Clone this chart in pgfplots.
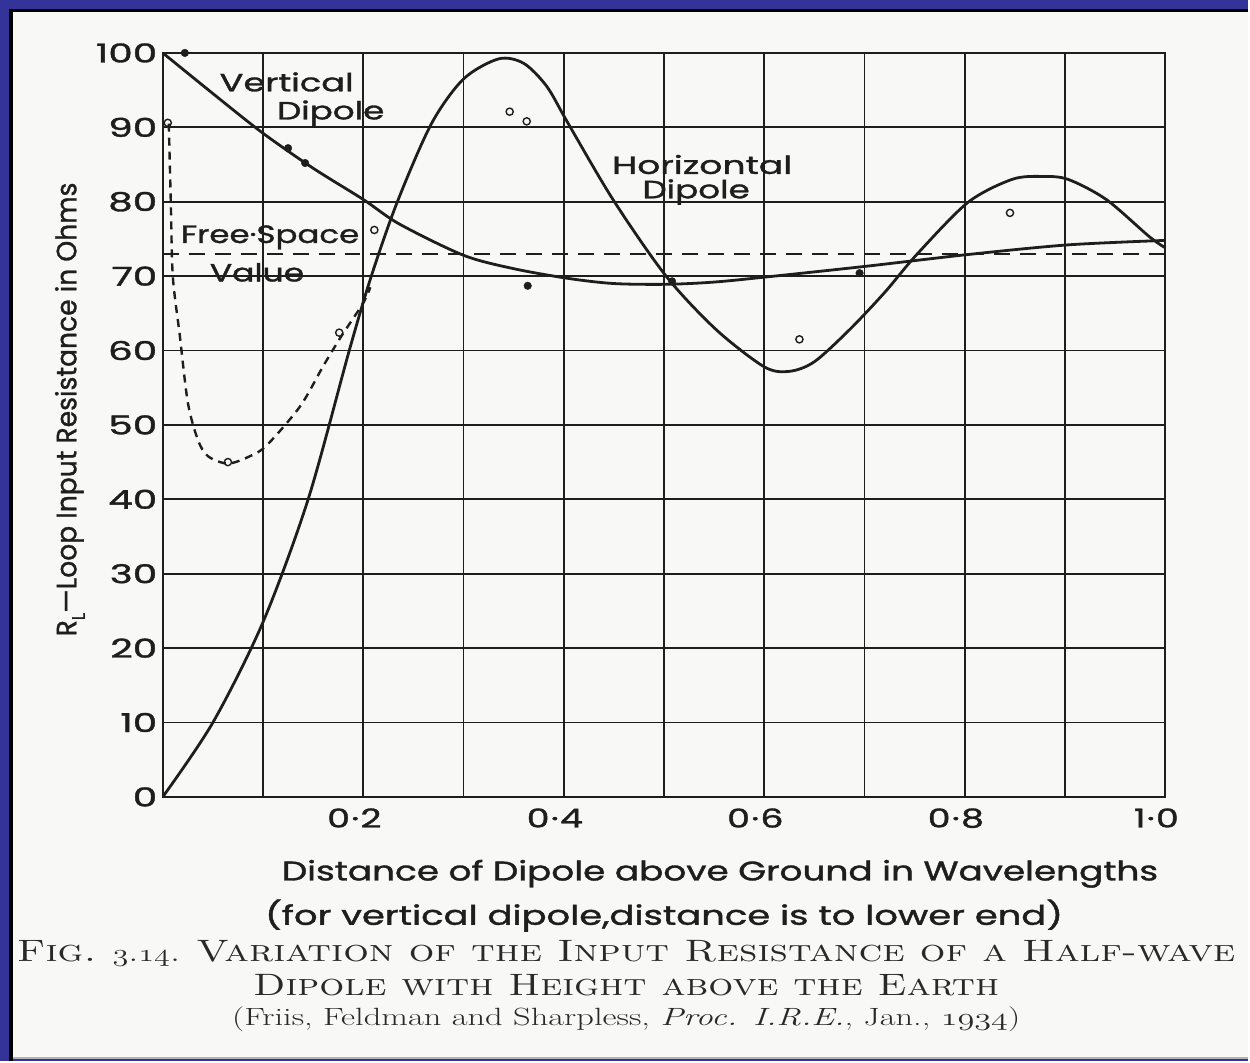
\documentclass[border=0pt]{standalone}
\usepackage{fontspec}
\usepackage{pgfplots}
\pgfplotsset{compat=1.18}
\newfontfamily\pop{Poppins}[FakeBold=1.2]
\definecolor{frameblue}{HTML}{34339A}
\definecolor{paper}{HTML}{F8F8F6}
\definecolor{ink}{HTML}{1E1E1E}
\newcommand\osn[1]{{\usefont{OML}{cmm}{m}{it}#1}}
% the scan's lettering is much wider than Poppins
\newcommand\ws[2][1.4]{\scalebox{#1}[1]{#2}}
\newcommand\yl[1]{\ws[1.5]{#1}}
\newcommand\xl[1]{\ws[1.4]{#1}}

\begin{document}
\begin{tikzpicture}[x=1pt,y=1pt]
% scanned page on its blue frame
\fill[frameblue] (0,0) rectangle (1250,1062);
\fill[paper] (13,2) rectangle (1250,1050);
\draw[black,line width=3.5pt] (11,0) -- (11,1051.5) -- (1250,1051.5);
\draw[gray!60,line width=1.5pt] (13,2.5) -- (1250,2.5);

\begin{axis}[
  at={(163pt,264pt)}, anchor=south west,
  scale only axis, width=1004pt, height=745pt,
  xmin=0, xmax=1, ymin=0, ymax=100,
  xtick={0.1,0.2,0.3,0.4,0.5,0.6,0.7,0.8,0.9,1},
  xticklabels={,\xl{0\kern1pt·\kern1pt2},,\xl{0\kern1pt·\kern1pt4},,\xl{0\kern1pt·\kern1pt6},,\xl{0\kern1pt·\kern1pt8},,\xl{1\kern1pt·\kern1pt0}},
  ytick={0,10,20,30,40,50,60,70,80,90,100},
  yticklabels={\yl{0},\yl{10},\yl{20},\yl{30},\yl{40},\yl{50},\yl{60},\yl{70},\yl{80},\yl{90},\yl{100}},
  grid=major, major grid style={ink, line width=1.8pt},
  axis line style={ink, line width=2.2pt},
  major tick length=0pt,
  tick label style={font=\pop\fontsize{26}{26}\selectfont, text=ink},
  xticklabel style={yshift=-8pt, xshift=-9pt},
  yticklabel style={xshift=-2pt},
]
% horizontal dipole
\addplot[ink, line width=2.8pt, smooth] coordinates {
(0,0) (0.05,10) (0.1,23.5) (0.145,40) (0.186,60)
(0.208,70) (0.234,80) (0.268,90.5) (0.3,96.5)
(0.335,99.2) (0.36,98.6) (0.383,95.5) (0.404,90.6) (0.449,80.3)
(0.502,70) (0.552,62.8) (0.6,57.8) (0.625,57.2) (0.65,58.5) (0.685,62.8)
(0.72,67.8) (0.752,72.9) (0.803,79.9) (0.847,83.0) (0.877,83.4)
(0.903,83.0) (0.941,80.3) (0.984,75.3) (1.0,73.8)};
% vertical dipole
\addplot[ink, line width=2.8pt, smooth] coordinates {
(0,100) (0.054,94.1) (0.1,89.2) (0.15,84.5) (0.2,80.3) (0.236,77)
(0.3,72.8) (0.35,71) (0.404,69.7) (0.45,69.0) (0.503,68.9) (0.55,69.2)
(0.603,69.9) (0.7,71.3) (0.803,72.9) (0.903,74.2) (1.0,74.8)};
% low heights, dashed
\addplot[ink, line width=2.4pt, smooth, dash pattern=on 8pt off 6pt] coordinates {
(0.006,90.5) (0.008,80) (0.01,70) (0.017,62) (0.025,53) (0.035,48)
(0.045,45.8) (0.065,44.8) (0.087,45.8) (0.104,47.3) (0.137,52.5)
(0.16,57.9) (0.178,61.9) (0.2,66.4) (0.207,68.5)};
% free space value
\addplot[ink, line width=1.8pt, dash pattern=on 16pt off 10pt] coordinates {(0,73) (1,73)};
% measured points
\addplot[only marks, mark=*, mark size=3.8pt, ink] coordinates {
(0.022,100) (0.125,87.2) (0.142,85.2) (0.364,68.7) (0.508,69.3) (0.695,70.4)};
\addplot[only marks, mark=o, mark size=3.6pt, ink, line width=1.4pt] coordinates {
(0.005,90.6) (0.065,45) (0.176,62.4) (0.211,76.2) (0.346,92.1) (0.363,90.8)
(0.635,61.5) (0.845,78.5)};

\begin{scope}[every node/.style={font=\pop\fontsize{25}{25}\selectfont, text=ink, inner sep=0pt}]
\node at (axis cs:0.1236,96.1) {\ws[1.41]{Vertical}};
\node at (axis cs:0.1675,91.9) {\ws[1.37]{Dipole}};
\node at (axis cs:0.538,85.0) {\ws[1.45]{Horizontal}};
\node at (axis cs:0.532,81.3) {\ws[1.37]{Dipole}};
\node at (axis cs:0.107,75.2) {\ws[1.3]{Free·Space}};
\node at (axis cs:0.094,70.5) {\ws[1.32]{Value}};
\end{scope}
\end{axis}

\node[rotate=90, font=\pop\fontsize{28}{28}\selectfont, text=ink] at (70,652)
  {\ws[0.95]{R\raisebox{-0.55ex}{\fontsize{18}{18}\selectfont L}—Loop Input Resistance in Ohms}};
\node[font=\pop\fontsize{27}{27}\selectfont, text=ink] at (721,187)
  {\ws[1.33]{Distance of Dipole above Ground in Wavelengths}};
\node[font=\pop\fontsize{27}{27}\selectfont, text=ink] at (665,145)
  {\ws[1.37]{(for vertical dipole,distance is to lower end)}};
\node[font=\fontsize{31}{31}\selectfont, text=ink!95] at (627,107)
  {\ws[1.3]{\textsc{Fig.} \osn{3}.\osn{14}. \textsc{Variation of the Input Resistance of a Half-wave}}};
\node[font=\fontsize{31}{31}\selectfont, text=ink!95] at (627,75)
  {\ws[1.27]{\textsc{Dipole with Height above the Earth}}};
\node[font=\fontsize{25}{25}\selectfont, text=ink!95] at (627,41)
  {\ws[1.38]{(Friis, Feldman and Sharpless, \textit{Proc. I.R.E.}, Jan., \osn{1934})}};
\end{tikzpicture}
\end{document}
